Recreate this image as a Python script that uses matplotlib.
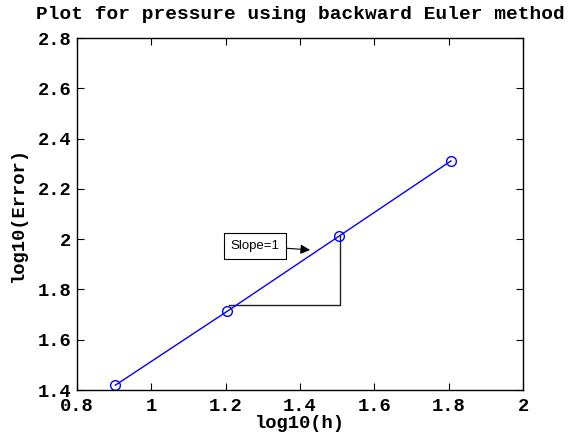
import numpy as np
import matplotlib
matplotlib.use("Agg")
import matplotlib.pyplot as plt

# data
log_h = [0.903, 1.204, 1.505, 1.806]
log_err = [1.419, 1.713, 2.012, 2.311]
x_ticks = [0.8, 1.0, 1.2, 1.4, 1.6, 1.8, 2.0]
x_tick_labels = ["0.8", "1", "1.2", "1.4", "1.6", "1.8", "2"]
y_ticks = [1.4, 1.6, 1.8, 2.0, 2.2, 2.4, 2.6, 2.8]
y_tick_labels = ["1.4", "1.6", "1.8", "2", "2.2", "2.4", "2.6", "2.8"]

# slope triangle corners
tri_x = [1.21, 1.508, 1.508]
tri_y = [1.738, 1.738, 2.012]

mono = ["Liberation Mono", "DejaVu Sans Mono"]

fig = plt.figure(figsize=(5.76, 4.36), dpi=100)
ax = fig.add_axes([0.1337, 0.1055, 0.7743, 0.8073])

ax.plot(log_h, log_err, color="blue", linewidth=1.0, marker="o",
        markersize=7, markerfacecolor="none", markeredgecolor="blue",
        markeredgewidth=1.0)
ax.plot(tri_x, tri_y, color="#222222", linewidth=1.0, zorder=1)

ax.annotate("Slope=1", xy=(1.427, 1.957), xytext=(1.213, 1.973),
            fontsize=9.5, family=["Liberation Sans", "DejaVu Sans"],
            va="center", ha="left",
            bbox=dict(boxstyle="square,pad=0.5", fc="white", ec="black", lw=0.8),
            arrowprops=dict(arrowstyle="-|>", color="black", lw=0.8,
                            mutation_scale=14, shrinkA=0, shrinkB=0))

ax.set_xlim(0.8, 2.0)
ax.set_ylim(1.4, 2.8)
ax.set_xticks(x_ticks)
ax.set_xticklabels(x_tick_labels)
ax.set_yticks(y_ticks)
ax.set_yticklabels(y_tick_labels)

ax.tick_params(direction="in", length=5, width=0.8, top=True, right=True,
               labelsize=13.5)
ax.tick_params(axis="x", pad=6)
ax.tick_params(axis="y", pad=4)
for lbl in ax.get_xticklabels() + ax.get_yticklabels():
    lbl.set_family(mono)
    lbl.set_fontweight("bold")
for sp in ax.spines.values():
    sp.set_linewidth(1.0)

ax.set_xlabel("log10(h)", family=mono, fontweight="bold", fontsize=13.5, labelpad=0)
ax.set_ylabel("log10(Error)", family=mono, fontweight="bold", fontsize=13.5, labelpad=8)
ax.set_title("Plot for pressure using backward Euler method", family=mono,
             fontweight="bold", fontsize=14, pad=14)

fig.savefig("out.png", dpi=100)
